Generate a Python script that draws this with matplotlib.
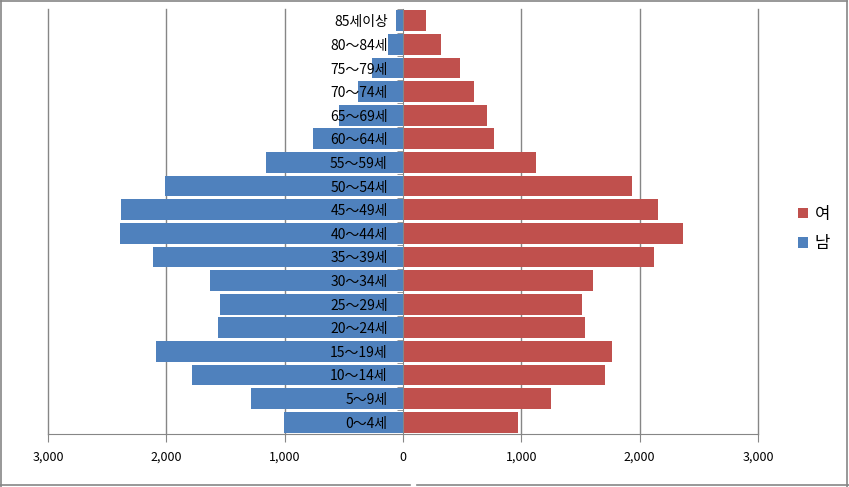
"""
Population pyramid by age group (남 / 여).
"""
import matplotlib
matplotlib.use("Agg")
import matplotlib.pyplot as plt
from matplotlib.lines import Line2D
from matplotlib.ticker import FuncFormatter

plt.rcParams['font.family'] = ['Noto Sans CJK KR', 'DejaVu Sans']

# age groups, bottom to top
age_groups = ['0～4세', '5～9세', '10～14세', '15～19세', '20～24세', '25～29세',
              '30～34세', '35～39세', '40～44세', '45～49세', '50～54세', '55～59세',
              '60～64세', '65～69세', '70～74세', '75～79세', '80～84세', '85세이상']
male = [1006, 1285, 1784, 2088, 1564, 1547, 1631, 2113, 2392, 2384, 2012, 1158,
        761, 538, 380, 262, 127, 59]
female = [972, 1251, 1708, 1767, 1538, 1515, 1608, 2122, 2367, 2156, 1937, 1127,
          769, 710, 600, 482, 321, 194]
x_ticks = [-3000, -2000, -1000, 0, 1000, 2000, 3000]

blue = '#4F81BD'
red = '#C0504D'
grey = '#868686'

fig = plt.figure(figsize=(8.49, 4.87), dpi=100)
ax = fig.add_axes([48 / 849, 1 - 434 / 487, 710 / 849, 425 / 487])
ax.set_axisbelow(False)  # category labels sit on top of the bars

ypos = list(range(len(age_groups)))
bars_f = ax.barh(ypos, female, height=0.88, color=red, label='여', zorder=2)
bars_m = ax.barh(ypos, [-v for v in male], height=0.88, color=blue, label='남', zorder=2)

ax.set_xlim(-3000, 3000)
ax.set_ylim(-0.5, len(age_groups) - 0.5)

# vertical gridlines
for t in x_ticks:
    if t != 0:
        ax.axvline(t, color=grey, linewidth=1.0, zorder=1, clip_on=False)

ax.set_xticks(x_ticks)
ax.xaxis.set_major_formatter(FuncFormatter(lambda v, p: f'{abs(int(v)):,}'))
ax.tick_params(axis='x', direction='out', length=6, color=grey, labelsize=9, pad=6)

# category axis sits at zero
ax.spines['left'].set_position(('data', 0))
ax.spines['left'].set_color(grey)
ax.spines['bottom'].set_color(grey)
ax.spines['top'].set_visible(False)
ax.spines['right'].set_visible(False)

ax.set_yticks(ypos)
ax.set_yticklabels(age_groups)
ax.set_yticks([y - 0.5 for y in ypos] + [len(age_groups) - 0.5], minor=True)
ax.tick_params(axis='y', which='major', length=0, labelsize=10, pad=11)
ax.tick_params(axis='y', which='minor', length=4, color=grey)

ax.legend(handles=[bars_f, bars_m], loc='center left', bbox_to_anchor=(783 / 849, 1 - 229 / 487),
          bbox_transform=fig.transFigure, frameon=False, fontsize=12,
          handlelength=0.6, handleheight=0.6, handletextpad=0.4, labelspacing=0.75)

# chart area border (bottom edge broken as in the original)
border = dict(color=grey, linewidth=1.2)
fig.add_artist(Line2D([1 / 849, 1 / 849], [0.0, 1 - 1 / 487], **border))
fig.add_artist(Line2D([1 / 849, 847 / 849], [1 - 1 / 487, 1 - 1 / 487], **border))
fig.add_artist(Line2D([847 / 849, 847 / 849], [1 - 1 / 487, 0.0], **border))
fig.add_artist(Line2D([0, 410 / 849], [1 - 485 / 487, 1 - 485 / 487], **border))
fig.add_artist(Line2D([417 / 849, 1], [1 - 485 / 487, 1 - 485 / 487], **border))

fig.savefig('out.png', dpi=100)
plt.close(fig)
